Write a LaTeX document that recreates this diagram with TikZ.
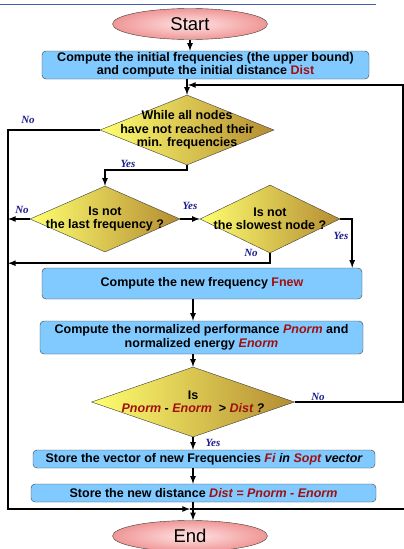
\documentclass[tikz,border=0pt]{standalone}
\usepackage{fontspec}
\setmainfont{Liberation Sans}
\newfontfamily\lblfont{Liberation Serif}
\usepackage{tikz}
\usetikzlibrary{shapes,arrows,positioning}

\definecolor{boxblue}{RGB}{128,202,255}
\definecolor{edgegray}{RGB}{60,60,60}
\definecolor{darkred}{RGB}{160,16,16}
\definecolor{lblblue}{RGB}{28,28,140}
\definecolor{topblue}{RGB}{70,95,175}
\definecolor{dyellow}{RGB}{255,255,112}
\definecolor{dmid}{RGB}{250,242,100}
\definecolor{dbrown}{RGB}{180,140,50}
\definecolor{epink}{RGB}{240,150,150}
\definecolor{elight}{RGB}{255,228,228}

\newcommand{\vark}[1]{\textcolor{darkred}{#1}}
\newcommand{\vari}[1]{\textcolor{darkred}{\itshape #1}}

\tikzset{
  block/.style={rectangle, rounded corners=4pt, draw=edgegray, fill=boxblue,
    align=center, inner sep=1pt, font=\bfseries\fontsize{12.5}{13.5}\selectfont},
  decision/.style={diamond, draw=edgegray, inner sep=0pt,
    left color=dyellow, middle color=dmid, right color=dbrown},
  dtext/.style={align=center, font=\bfseries\fontsize{12.5}{13.5}\selectfont},
  terminal/.style={ellipse, draw=edgegray, inner color=elight, outer color=epink,
    minimum width=155, minimum height=31, font=\fontsize{18.5}{20}\selectfont},
  arr/.style={->, >=latex, line width=1.6pt},
  wire/.style={line width=1.6pt},
  lbl/.style={font=\lblfont\bfseries\itshape\fontsize{11}{12}\selectfont, text=lblblue, inner sep=0pt}
}

\begin{document}
\begin{tikzpicture}[x=1pt,y=-1pt]
\useasboundingbox (0,0) rectangle (404,549);
\draw[topblue, line width=0.8pt] (0,4) -- (376,4);

% terminals and blocks
\node[terminal] (start) at (190,24) {Start};
\node[block, minimum width=327, minimum height=28] (init) at (205.5,65)
  {Compute the initial frequencies (the upper bound)\\and compute the initial distance \vark{Dist}};
\node[decision, minimum width=174, minimum height=70,
  label={[dtext]center:While all nodes\\have not reached their\\min. frequencies}] (while) at (187,130) {};
\node[decision, minimum width=150, minimum height=66,
  label={[dtext]center:Is not\\the last frequency ?}] (last) at (105,219) {};
\node[decision, minimum width=140, minimum height=68,
  label={[dtext]center:Is not\\the slowest node ?}] (slow) at (270,219) {};
\node[block, minimum width=320, minimum height=31] (fnew) at (202,283.5)
  {Compute the new frequency \vark{Fnew}};
\node[block, minimum width=323, minimum height=33] (norm) at (201.5,337.5)
  {Compute the normalized performance \vari{Pnorm} and\\normalized energy \vari{Enorm}};
\node[decision, minimum width=203, minimum height=70,
  label={[dtext]center:Is\\\vari{Pnorm} - \vari{Enorm}\ \ > \vari{Dist} {\itshape ?}}] (dist) at (193,402) {};
\node[block, minimum width=342, minimum height=18] (store) at (204,459)
  {Store the vector of new Frequencies \vari{Fi} {\itshape in} \vari{Sopt} {\itshape vector}};
\node[block, minimum width=345, minimum height=18] (newdist) at (203.5,493)
  {Store the new distance \vari{Dist = Pnorm - Enorm}};
\node[terminal] (end) at (190,536) {End};

% helper points on the outer lines
\coordinate (ltop) at (8,130);
\coordinate (lbot) at (8,509);
\coordinate (join) at (190,509);
\coordinate (rend) at (404,509);
\coordinate (rtop) at (403,85);
\coordinate (loopin) at (188,85);

% main flow
\draw[arr] (start.south) -- (start.south |- init.north);
\draw[arr] (init.south -| while.north) -- (while.north);
\draw[arr] (while.south) -- ++(0,5) -| (last.north);
\draw[arr] (last.east) -- (slow.west);
\draw[arr] (slow.east) -- ++(12,0) coordinate (sr) -- (sr |- fnew.north);
\draw[arr] (fnew.south -| dist.north) -- (norm.north -| dist.north);
\draw[arr] (norm.south -| dist.north) -- (dist.north);
\draw[arr] (dist.south) -- (store.north -| dist.south);
\draw[arr] (store.south -| dist.south) -- (newdist.north -| dist.south);
\draw[arr] (newdist.south -| dist.south) -- (end.north -| dist.south);

% back lines
\draw[arr] (dist.east) -- (dist.east -| rtop) -- (rtop) -- (loopin);
\draw[arr] (while.west) -- (ltop) -- (lbot) -- (join);
\draw[wire] (join) -- (rend);
\draw[arr] (last.west) -- (last.west -| ltop);
\draw[arr] (slow.south) -- ++(0,10) coordinate (sb) -- (sb -| ltop);

% yes / no
\node[lbl] (nowhile) at (28,120) {No};
\node[lbl] (yeswhile) at (128,164) {Yes};
\node[lbl] (nolast) at (22,210) {No};
\node[lbl] (yeslast) at (190,206) {Yes};
\node[lbl] (yesslow) at (341,236) {Yes};
\node[lbl] (noslow) at (251,253) {No};
\node[lbl] (nodist) at (318,397) {No};
\node[lbl] (yesdist) at (213,443) {Yes};
\end{tikzpicture}
\end{document}
